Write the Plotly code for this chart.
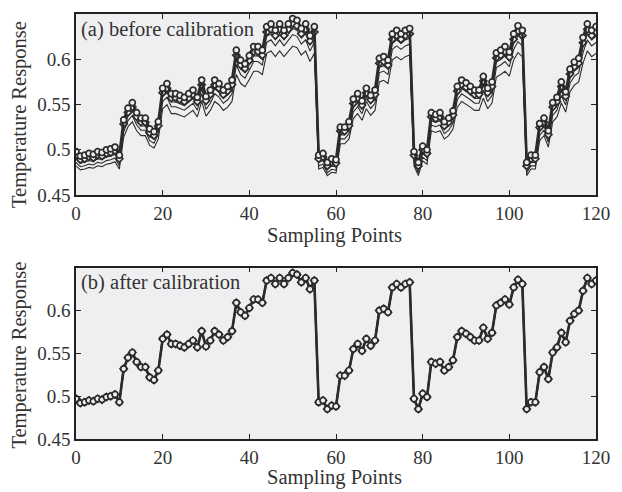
import plotly.graph_objects as go
from plotly.subplots import make_subplots

# Sampling index
samples = list(range(121))

# Reference temperature response (true signal)
reference = [
    0.497, 0.492, 0.493, 0.495, 0.494, 0.497, 0.496, 0.499, 0.500, 0.502,
    0.493, 0.532, 0.545, 0.551, 0.540, 0.534, 0.534, 0.522, 0.519, 0.530,
    0.567, 0.572, 0.561, 0.561, 0.559, 0.557, 0.561, 0.565, 0.557, 0.576,
    0.558, 0.565, 0.576, 0.572, 0.565, 0.569, 0.576, 0.609, 0.598, 0.594,
    0.603, 0.613, 0.613, 0.609, 0.635, 0.638, 0.631, 0.638, 0.631, 0.638,
    0.644, 0.642, 0.633, 0.638, 0.625, 0.635, 0.493, 0.495, 0.485, 0.489,
    0.488, 0.524, 0.524, 0.530, 0.555, 0.561, 0.553, 0.567, 0.559, 0.565,
    0.600, 0.602, 0.598, 0.627, 0.631, 0.627, 0.631, 0.633, 0.497, 0.485,
    0.503, 0.499, 0.540, 0.538, 0.540, 0.530, 0.534, 0.542, 0.569, 0.576,
    0.573, 0.569, 0.565, 0.565, 0.580, 0.567, 0.574, 0.606, 0.609, 0.613,
    0.607, 0.627, 0.636, 0.631, 0.485, 0.493, 0.493, 0.528, 0.534, 0.520,
    0.551, 0.557, 0.574, 0.563, 0.588, 0.596, 0.600, 0.623, 0.638, 0.631,
    0.635,
]

# Per-sensor gain and offset of the raw readings
sensor_gain = [1.000, 0.986, 0.980, 0.960, 0.900]
sensor_offset = [0.001, 0.004, 0.003, 0.009, 0.035]

# Sensor drawing styles: line width, marker symbol and marker size
sensor_width = [2.6, 2.0, 1.1, 1.1, 1.1]
sensor_marker = ["circle", "diamond", None, None, None]
sensor_msize = [6, 5.5, 0, 0, 0]

raw = [[g * v + o for v in reference] for g, o in zip(sensor_gain, sensor_offset)]
calibrated = [[(v - o) / g for v in series]
              for series, g, o in zip(raw, sensor_gain, sensor_offset)]

LINE = "#2b2b2b"
BG = "#efeff1"
FONT = "Liberation Serif"

fig = make_subplots(rows=2, cols=1, vertical_spacing=0.0)


def add_panel(data, row):
    # thin sensors first, marked sensors on top
    for k in reversed(range(len(data))):
        sym = sensor_marker[k]
        fig.add_trace(
            go.Scatter(
                x=samples, y=data[k],
                mode="lines+markers" if sym else "lines",
                line=dict(color=LINE, width=sensor_width[k]),
                marker=dict(symbol=sym or "circle", size=sensor_msize[k] or 6,
                            color=BG, line=dict(color=LINE, width=1.7)),
                showlegend=False,
            ),
            row=row, col=1,
        )


add_panel(raw, 1)
add_panel(calibrated, 2)

ytick_vals = [0.45, 0.5, 0.55, 0.6]
ytick_text = ["0.45", "0.5", "0.55", "0.6"]
xtick_vals = [0, 20, 40, 60, 80, 100, 120]

axis_common = dict(
    showline=True, linecolor="#222", linewidth=1.5, mirror="ticks",
    ticks="inside", ticklen=5, tickwidth=1, tickcolor="#222",
    showgrid=False, zeroline=False,
    tickfont=dict(family=FONT, size=19, color="#333"),
)

for ax in ("xaxis", "xaxis2"):
    fig.layout[ax].update(range=[0, 120], tickvals=xtick_vals, **axis_common)
for ax in ("yaxis", "yaxis2"):
    fig.layout[ax].update(range=[0.45, 0.65], tickvals=ytick_vals,
                          ticktext=ytick_text, **axis_common)

fig.layout.yaxis.domain = [0.574, 1.0]
fig.layout.yaxis2.domain = [0.0, 0.403]

fig.update_layout(
    width=622, height=492,
    margin=dict(l=76, r=15, t=12, b=53),
    paper_bgcolor="white", plot_bgcolor=BG,
    font=dict(family=FONT, color="#333"),
)

title_font = dict(family=FONT, size=20.5, color="#333")
# panel labels
fig.add_annotation(text="(a) before calibration", xref="x domain", yref="y domain",
                   x=0.006, y=0.99, xanchor="left", yanchor="top",
                   showarrow=False, font=title_font)
fig.add_annotation(text="(b) after calibration", xref="x2 domain", yref="y2 domain",
                   x=0.006, y=0.99, xanchor="left", yanchor="top",
                   showarrow=False, font=title_font)
# axis titles, placed in paper coordinates
for ycen in (0.763, 0.197):
    fig.add_annotation(text="Temperature Response", xref="paper", yref="paper",
                       x=-0.109, y=ycen, textangle=-90,
                       xanchor="center", yanchor="middle",
                       showarrow=False, font=title_font)
for ycen in (0.479, -0.090):
    fig.add_annotation(text="Sampling Points", xref="paper", yref="paper",
                       x=0.497, y=ycen, xanchor="center", yanchor="middle",
                       showarrow=False, font=title_font)

fig.write_html("out.html")
